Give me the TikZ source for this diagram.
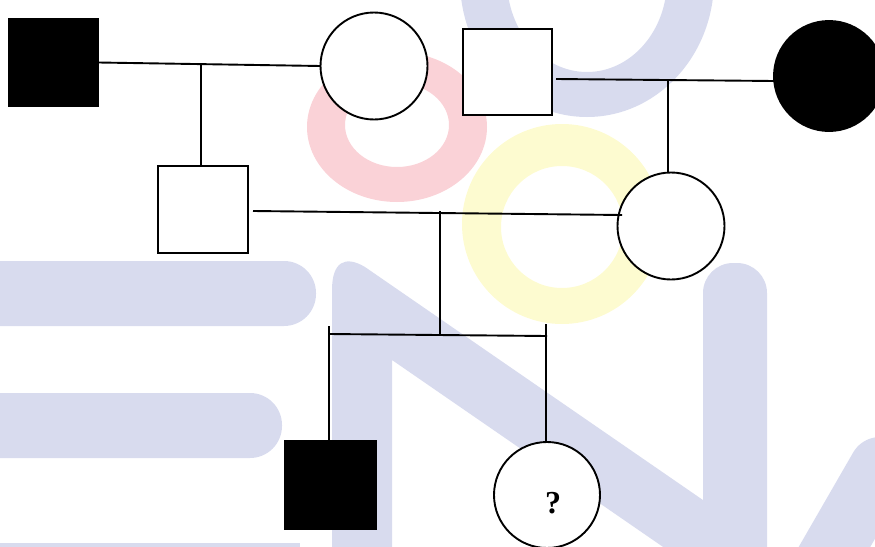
\documentclass[tikz,border=0pt]{standalone}
\usepackage{fontspec}
\setmainfont{Liberation Serif}
\usetikzlibrary{calc}
\definecolor{wmblue}{HTML}{D8DBEE}
\definecolor{wmpink}{HTML}{FAD2D7}
\definecolor{wmyellow}{HTML}{FDFBD0}
\begin{document}
\begin{tikzpicture}[x=1pt,y=-1pt,
  person/.style={draw, line width=1.9pt, fill=white, inner sep=0pt, outer sep=0pt},
  male/.style={person, rectangle, minimum width=90, minimum height=87},
  female/.style={person, circle, minimum size=107},
  affected/.style={fill=black},
  link/.style={line width=1.9pt, black}]
\useasboundingbox (0,0) rectangle (875,546);
% watermark
\begin{scope}
\clip (0,0) rectangle (875,546);
\fill[wmblue, even odd rule] (587,-20) ellipse [x radius=127, y radius=137] (587,-20) ellipse [x radius=80, y radius=92];
\fill[wmpink, even odd rule] (397,127) ellipse [x radius=90, y radius=75] (397,125) ellipse [x radius=52, y radius=42];
\fill[wmyellow, even odd rule] (562,224) circle [radius=100] (562,227) circle [radius=61];
\fill[wmblue, rounded corners=32] (-40,261) rectangle (316,326);
\fill[wmblue, rounded corners=32] (-40,393) rectangle (282,458);
\fill[wmblue] (-40,543) rectangle (300,600);
\fill[wmblue] (332,600) -- (332,290) .. controls (332,262) and (345,255) .. (365,267)
  -- (745,529) -- (745,600) -- (740,600) -- (392,360) -- (392,600) -- cycle;
\fill[wmblue, rounded corners=30] (703,263) rectangle (767,600);
\draw[wmblue, line width=62pt, line cap=round] (880,468) -- (820,572);
\end{scope}
% pedigree
\node[male, affected] (m1) at (53.5,62.5) {};
\node[female] (f1) at (374,66) {};
\node[male, minimum width=89, minimum height=86] (m2) at (507.5,72) {};
\node[female, affected, minimum size=110] (f2) at (829,76) {};
\node[male] (s3) at (203,209.5) {};
\node[female] (d4) at (671,226) {};
\node[male, affected, minimum width=91, minimum height=88] (c1) at (330.5,485) {};
\node[female, minimum size=106] (c2) at (547,495) {};
\node[font=\bfseries\fontsize{32}{32}\selectfont, inner sep=0pt] (q) at (553,503) {?};
\coordinate (j1) at (201,64);
\coordinate (j2) at (668,80);
\coordinate (j3) at (440,211);
\coordinate (sl) at (329,334);
\coordinate (sr) at (547,336);
\coordinate (tl) at (329,326);
\coordinate (tr) at (546,324);
\draw[link] (m1.east) -- (f1.west);
\draw[link] ($(m2.east)+(4,7)$) -- ($(f2.west)+(0,5)$);
\draw[link] (j1) -- (j1 |- s3.north);
\draw[link] (j2) -- (j2 |- d4.north);
\draw[link] ($(s3.east)+(5,1.5)$) -- ($(d4.west)+(4.5,-11)$);
\draw[link] (j3) -- (j3 |- sl);
\draw[link] (sl) -- (sr);
\draw[link] (tl) -- (tl |- c1.north);
\draw[link] (tr) -- (tr |- c2.north);
\end{tikzpicture}
\end{document}
